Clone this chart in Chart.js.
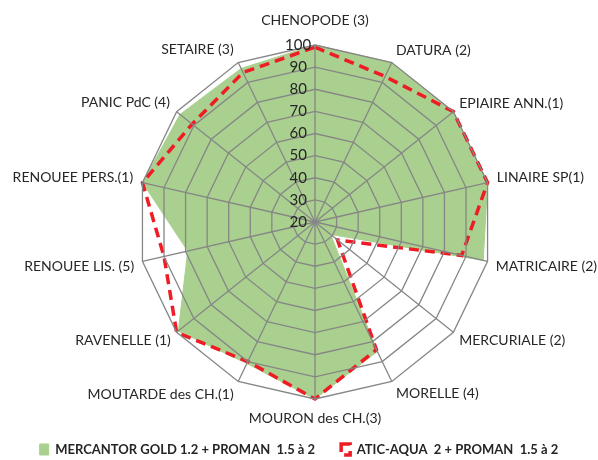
<!DOCTYPE html>
<html>
<head>
<meta charset="utf-8">
<script src="https://cdn.jsdelivr.net/npm/chart.js@4.4.0/dist/chart.umd.min.js"></script>
<style>
  body { margin: 0; background: #fff; }
  #wrap { width: 598px; height: 460px; }
</style>
</head>
<body>
<div id="wrap"><canvas id="radar"></canvas></div>
<script>
// categories (clockwise from top)
var categories = [
    'CHENOPODE (3)', 'DATURA (2)', 'EPIAIRE ANN.(1)', 'LINAIRE SP(1)',
    'MATRICAIRE (2)', 'MERCURIALE (2)', 'MORELLE (4)', 'MOURON des CH.(3)',
    'MOUTARDE des CH.(1)', 'RAVENELLE (1)', 'RENOUEE LIS. (5)',
    'RENOUEE PERS.(1)', 'PANIC PdC (4)', 'SETAIRE (3)'
];

var seriesNames = ['MERCANTOR GOLD 1.2 + PROMAN  1.5 à 2', 'ATIC-AQUA  2 + PROMAN  1.5 à 2'];

// efficacy values
var mercantor = [100, 100, 100, 100, 98, 29, 85, 100, 91, 99, 79, 100, 98, 97];
var aticAqua  = [99, 93, 100, 100, 88, 33, 84, 100, 90, 100, 90, 100, 91, 95];

var tickMin = 20;
var tickMax = 100;
var tickStep = 10;

// layout of the radar (style, not data)
var centerX = 315;
var centerY = 222;
var radius = 177;
var labelPadding = [14, 2, 0, 2, 1, 0, 2, 8, 3, 0, 1, 2, 1, 3];

var green = '#a9d08e';
var red = '#ee1c25';
var grey = '#868686';
var textColor = '#262626';

var config = {
    type: 'radar',
    data: {
        labels: categories,
        datasets: [{
            label: seriesNames[0],
            data: mercantor,
            backgroundColor: green,
            borderColor: green,
            borderWidth: 1,
            pointRadius: 0,
            fill: true,
            order: 1
        }, {
            label: seriesNames[1],
            data: aticAqua,
            backgroundColor: 'rgba(0,0,0,0)',
            borderColor: red,
            borderWidth: 3.5,
            borderDash: [10, 6],
            pointRadius: 0,
            fill: false,
            order: 0
        }]
    },
    options: {
        responsive: true,
        maintainAspectRatio: false,
        animation: false,
        layout: { padding: { left: 0, right: 0, top: 0, bottom: -6 } },
        plugins: {
            legend: {
                position: 'bottom',
                labels: {
                    boxWidth: 9,
                    boxHeight: 11,
                    padding: 26,
                    color: textColor,
                    font: { family: 'Lato', size: 13, weight: 'bold' },
                    sort: function(a, b){
                        return a.datasetIndex - b.datasetIndex;
                    }
                }
            },
            tooltip: { enabled: false }
        },
        scales: {
            r: {
                min: tickMin,
                max: tickMax,
                ticks: {
                    stepSize: tickStep,
                    z: 1,
                    color: textColor,
                    font: { family: 'Lato', size: 15 },
                    showLabelBackdrop: false,
                    backdropPadding: 0,
                    // shift the numbers to the left of the vertical spoke
                    callback: function(value){
                        return value + '\u2003\u2003\u2003';
                    }
                },
                // put the "20" back at the centre (chart.js skips the first tick)
                afterBuildTicks: function(scale){
                    scale.ticks.unshift({ value: tickMin });
                },
                // fix centre and radius like the original
                beforeFit: function(scale){
                    scale._saved = [scale.left, scale.right, scale.top, scale.bottom];
                    scale.left = -9999; scale.right = 9999;
                    scale.top = -9999; scale.bottom = 9999;
                    scale.xCenter = centerX;
                    scale.yCenter = centerY;
                    scale.drawingArea = radius;
                },
                afterFit: function(scale){
                    scale.left = scale._saved[0]; scale.right = scale._saved[1];
                    scale.top = scale._saved[2]; scale.bottom = scale._saved[3];
                },
                grid: { color: grey, lineWidth: 1.3, z: 1 },
                angleLines: { color: grey, lineWidth: 1.3 },
                pointLabels: {
                    color: textColor,
                    font: { family: 'Lato', size: 14, lineHeight: 0.5 },
                    padding: function(ctx){
                        return labelPadding[ctx.index];
                    }
                }
            }
        }
    }
};

var ctx = document.getElementById('radar').getContext('2d');
var chart = new Chart(ctx, config);
</script>
</body>
</html>
